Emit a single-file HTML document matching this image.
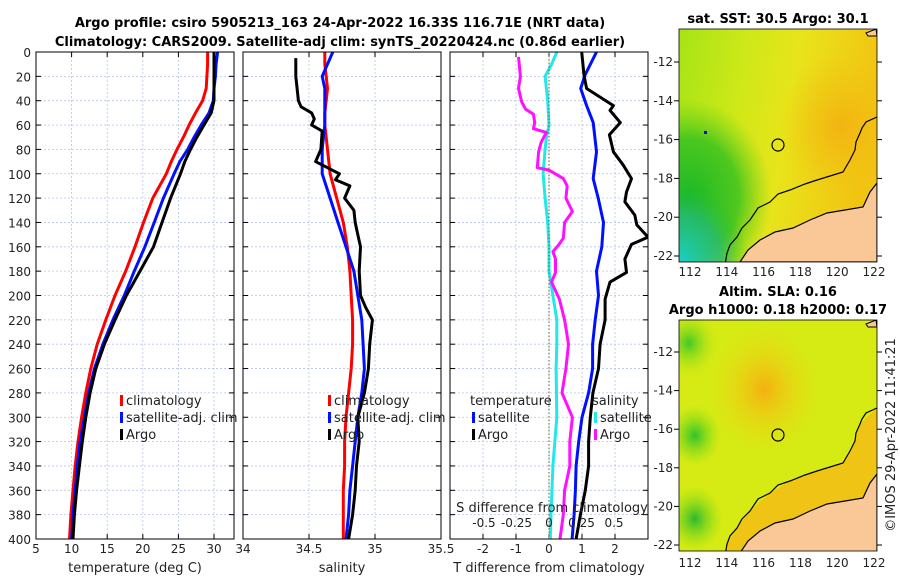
<!DOCTYPE html>
<html><head><meta charset="utf-8">
<style>
body{margin:0;background:#fff;}
svg{display:block;font-family:"DejaVu Sans","Liberation Sans",sans-serif;}
</style></head>
<body>
<svg id="fig" width="900" height="580" viewBox="0 0 900 580" xmlns="http://www.w3.org/2000/svg">
<defs>
<linearGradient id="sstBase" x1="0" y1="0" x2="1" y2="0.2">
<stop offset="0" stop-color="#a6e416"/><stop offset="0.35" stop-color="#cfe818"/><stop offset="0.6" stop-color="#e8e41a"/><stop offset="1" stop-color="#f2c412"/></linearGradient>
<radialGradient id="sstCyan" cx="0" cy="1" r="0.35"><stop offset="0" stop-color="#18d0c8"/><stop offset="0.6" stop-color="#20b880" stop-opacity="0.7"/><stop offset="1" stop-color="#20c020" stop-opacity="0"/></radialGradient>
<radialGradient id="sstGreen" cx="0.05" cy="0.72" r="0.42"><stop offset="0" stop-color="#1cb828"/><stop offset="0.6" stop-color="#30c020" stop-opacity="0.8"/><stop offset="1" stop-color="#60d018" stop-opacity="0"/></radialGradient>
<radialGradient id="sstOr" cx="0.82" cy="0.42" r="0.32"><stop offset="0" stop-color="#f2b412"/><stop offset="1" stop-color="#f2c012" stop-opacity="0"/></radialGradient>
<radialGradient id="slaOr" cx="0.43" cy="0.3" r="0.28"><stop offset="0" stop-color="#f5b010"/><stop offset="1" stop-color="#ecdc14" stop-opacity="0"/></radialGradient>
<radialGradient id="slaG1" cx="0.08" cy="0.5" r="0.13"><stop offset="0" stop-color="#30c030"/><stop offset="1" stop-color="#80e010" stop-opacity="0"/></radialGradient>
<radialGradient id="slaG2" cx="0.08" cy="0.86" r="0.14"><stop offset="0" stop-color="#2cb830"/><stop offset="1" stop-color="#80e010" stop-opacity="0"/></radialGradient>
<radialGradient id="slaG3" cx="0.05" cy="0.1" r="0.15"><stop offset="0" stop-color="#40c828"/><stop offset="1" stop-color="#c0e810" stop-opacity="0"/></radialGradient>
<clipPath id="c1"><rect x="36" y="52" width="198" height="487"/></clipPath>
<clipPath id="c2"><rect x="243" y="52" width="198" height="487"/></clipPath>
<clipPath id="c3"><rect x="450" y="52" width="198" height="487"/></clipPath>
<clipPath id="m1"><rect x="679" y="29" width="198" height="233"/></clipPath>
<clipPath id="m2"><rect x="679" y="320" width="198" height="231"/></clipPath>
</defs>
<g id="titles" font-weight="bold" font-size="13" text-anchor="middle" fill="#000">
<text x="340" y="27">Argo profile: csiro 5905213_163 24-Apr-2022 16.33S 116.71E (NRT data)</text>
<text x="340" y="46">Climatology: CARS2009. Satellite-adj clim: synTS_20220424.nc (0.86d earlier)</text>
<text x="778" y="23">sat. SST: 30.5 Argo: 30.1</text>
<text x="778" y="296">Altim. SLA: 0.16</text>
<text x="778" y="314">Argo h1000: 0.18 h2000: 0.17</text>
</g>
<g id="panels"></g>
<g id="maps">
 <g clip-path="url(#m1)">
  <rect x="679" y="29" width="198" height="233" fill="url(#sstBase)"/>
  <rect x="679" y="29" width="198" height="233" fill="url(#sstGreen)"/>
  <rect x="679" y="29" width="198" height="233" fill="url(#sstOr)"/>
  <rect x="679" y="29" width="198" height="233" fill="url(#sstCyan)"/>
  <g id="coast1"></g>
 </g>
 <rect x="704" y="131" width="3" height="3" fill="#1010c0"/>
 <rect x="679" y="29" width="198" height="233" fill="none" stroke="#000" stroke-width="0.8"/>
 <circle cx="778" cy="145" r="6" fill="none" stroke="#000" stroke-width="1.2"/>
 <g clip-path="url(#m2)">
  <rect x="679" y="320" width="198" height="231" fill="#d6ea14"/>
  <rect x="679" y="320" width="198" height="231" fill="url(#slaG3)"/>
  <rect x="679" y="320" width="198" height="231" fill="url(#slaOr)"/>
  <rect x="679" y="320" width="198" height="231" fill="url(#slaG1)"/>
  <rect x="679" y="320" width="198" height="231" fill="url(#slaG2)"/>
  <path d="M877,408 L860,424 L855,441 L843,463 L817,471 L790,481 L770,493 L750,511 L737,528 L727,544 L725,556 L740,553 L760,531 L793,519 L827,504 L863,498 L877,474 Z" fill="#f0c414"/>
  <g id="coast2"></g>
 </g>
 <rect x="679" y="320" width="198" height="231" fill="none" stroke="#000" stroke-width="0.8"/>
 <circle cx="778" cy="435" r="6" fill="none" stroke="#000" stroke-width="1.2"/>
 <g id="mapticks" font-size="12" fill="#222"></g>
</g>
<text transform="translate(895,435) rotate(-90)" font-size="13" text-anchor="middle" fill="#222">©IMOS 29-Apr-2022 11:41:21</text>
</svg>
<script>
const depths=[0,10,20,30,40,50,60,70,80,90,100,120,140,160,180,200,220,240,260,280,300,320,340,360,380,400];
const tempClim=[29.1,29.1,29.0,28.9,28.4,27.4,26.5,25.7,24.8,24.0,23.3,21.4,20.1,18.9,17.6,16.1,14.8,13.6,12.7,12.0,11.4,10.9,10.5,10.2,9.9,9.7];
const tempSat=[30.5,30.3,30.2,30.0,29.9,29.3,28.2,27.2,26.3,25.2,24.4,22.9,21.6,20.3,18.8,17.4,15.8,14.4,13.2,12.4,11.8,11.2,10.8,10.5,10.2,10.0];
const tempArgo=[30.0,30.0,30.0,30.0,30.0,29.6,28.6,27.6,26.7,25.9,25.3,23.9,22.7,21.5,19.6,17.7,16.1,14.6,13.4,12.6,12.0,11.5,11.1,10.7,10.4,10.2];
const salClim=[34.62,34.62,34.63,34.64,34.63,34.62,34.62,34.63,34.64,34.65,34.66,34.71,34.76,34.79,34.81,34.82,34.83,34.83,34.82,34.80,34.78,34.77,34.77,34.76,34.76,34.76];
const salSat=[34.68,34.64,34.60,34.62,34.62,34.62,34.62,34.61,34.60,34.60,34.60,34.66,34.72,34.78,34.84,34.87,34.90,34.91,34.92,34.90,34.87,34.85,34.83,34.81,34.80,34.78];
const argoDepths=[5,20,40,45,50,55,60,65,80,90,95,100,105,110,120,130,140,150,160,180,200,210,220,240,260,280,300,320,340,360,380,400];
const salArgo=[34.40,34.40,34.42,34.44,34.52,34.54,34.52,34.60,34.59,34.55,34.64,34.73,34.70,34.81,34.77,34.84,34.85,34.87,34.89,34.88,34.89,34.93,34.98,34.96,34.95,34.92,34.87,34.88,34.86,34.85,34.83,34.80];
const dTargoDepths=[0,19,30,44,48,58,68,82,93,104,115,123,134,142,152,158,170,181,189,203,220,240,260,280,300,320,340,360,380,400];
const dTargo=[0.99,1.06,1.14,1.95,1.85,2.16,1.83,1.95,2.25,2.5,2.35,2.3,2.6,2.66,3.0,2.5,2.3,2.35,1.85,1.7,1.7,1.55,1.5,1.33,1.25,1.2,1.2,1.1,0.95,0.82];
const dTsatDepths=[0,19,30,44,58,82,104,120,140,160,180,200,220,240,260,280,300,320,340,360,380,400];
const dTsat=[1.44,1.09,0.96,1.14,1.34,1.44,1.34,1.49,1.65,1.6,1.44,1.5,1.4,1.32,1.32,1.2,1.0,0.9,0.82,0.8,0.76,0.7];
const dSsatDepths=[0,10,20,40,60,70,80,100,120,140,160,180,200,220,240,260,300,340,380,400];
const dSsat=[0.06,0.02,-0.03,-0.01,0.0,-0.02,-0.03,-0.045,-0.03,-0.01,0.0,0.0,0.03,0.06,0.06,0.055,0.06,0.03,0.015,0.01];
const dSargoDepths=[4,20,30,41,47,51,58,63,66,74,82,95,97,104,110,120,131,140,153,159,164,170,181,189,203,220,240,260,280,300,320,340,360,380,400];
const dSargo=[-0.235,-0.22,-0.235,-0.21,-0.18,-0.12,-0.11,-0.12,-0.02,-0.06,-0.08,-0.09,0.0,0.11,0.14,0.13,0.18,0.12,0.11,0.07,0.03,0.05,0.05,0.02,0.08,0.12,0.15,0.13,0.1,0.18,0.16,0.16,0.12,0.11,0.085];
const tTicks=[5,10,15,20,25,30];
const sTicks=[34,34.5,35,35.5];
const dTicks=[-2,-1,0,1,2];
const dsTicks=[-0.5,-0.25,0,0.25,0.5];
const dsTickLabels=["-0.5","-0.25","0","0.25","0.5"];
const depthTicks=[0,20,40,60,80,100,120,140,160,180,200,220,240,260,280,300,320,340,360,380,400];
const lonTicks=[112,114,116,118,120,122];
const latTicks=[-12,-14,-16,-18,-20,-22];

const NS='http://www.w3.org/2000/svg';
const fig=document.getElementById('panels');
function mk(tag,attrs,parent,text){const e=document.createElementNS(NS,tag);for(const k in attrs)e.setAttribute(k,attrs[k]);if(text!==undefined)e.textContent=text;(parent||fig).appendChild(e);return e;}
const Y=d=>52+d*(487/400);
const xT=t=>36+(t-5)*(178/25);
const xS=s=>243+(s-34)*132;
const xD=d=>549+d*33;
const xDS=d=>549+d*130;
const panels=[[36,'c1'],[243,'c2'],[450,'c3']];
panels.forEach(([x0,cp],i)=>{
  const g=mk('g',{});
  
  
  depthTicks.forEach(d=>{if(d>0&&d<400){const l=mk('line',{x1:x0,x2:x0+198,y1:Y(d),y2:Y(d),stroke:'#b8c4e8','stroke-width':0.8,'stroke-dasharray':'2,2'},g);}
   mk('line',{x1:x0,x2:x0+5,y1:Y(d),y2:Y(d),stroke:'#000'},g);mk('line',{x1:x0+193,x2:x0+198,y1:Y(d),y2:Y(d),stroke:'#000'},g);});
  const xs=i==0?tTicks.map(xT):i==1?sTicks.map(xS):dTicks.map(xD);
  xs.forEach(x=>{if(x>x0+1&&x<x0+197)mk('line',{x1:x,x2:x,y1:52,y2:539,stroke:'#b8c4e8','stroke-width':0.8,'stroke-dasharray':'2,2'},g);
    mk('line',{x1:x,x2:x,y1:539,y2:534,stroke:'#000'},g);mk('line',{x1:x,x2:x,y1:52,y2:57,stroke:'#000'},g);});
  g._x0=x0;g._cp=cp;panels[i].g=g;
});
depthTicks.forEach(d=>{const t=mk('text',{x:31,y:Y(d)+5,'font-size':12,'text-anchor':'end',fill:'#222'},fig,String(d));});
tTicks.forEach(v=>{const t=mk('text',{x:xT(v),y:553,'font-size':12,'text-anchor':'middle',fill:'#222'},fig,String(v));});
sTicks.forEach(v=>{const t=mk('text',{x:xS(v),y:553,'font-size':12,'text-anchor':'middle',fill:'#222'},fig,String(v));});
dTicks.forEach(v=>{const t=mk('text',{x:xD(v),y:553,'font-size':12,'text-anchor':'middle',fill:'#222'},fig,String(v));});
dsTicks.forEach((v,k)=>{const t=mk('text',{x:xDS(v),y:527,'font-size':12,'text-anchor':'middle',fill:'#222'},fig,dsTickLabels[k]);});
[['temperature (deg C)',135,'x-axis-title-temp'],['salinity',342,'x-axis-title-sal'],['T difference from climatology',549,'x-axis-title-tdiff']].forEach(a=>{const t=mk('text',{x:a[1],y:572,'font-size':13,'text-anchor':'middle',fill:'#222'},fig,a[0]);});
{const t=mk('text',{x:552,y:512,'font-size':13,'text-anchor':'middle',fill:'#222'},fig,'S difference from climatology');}
mk('line',{x1:xD(0),x2:xD(0),y1:52,y2:539,stroke:'#556644','stroke-dasharray':'1.5,2','stroke-width':1});
function line(pi,xf,vals,ds,color,name){
  const pts=vals.map((v,k)=>xf(v).toFixed(1)+','+Y(ds[k]).toFixed(1)).join(' ');
  const p=mk('polyline',{points:pts,fill:'none',stroke:color,'stroke-width':3,'stroke-linejoin':'round','clip-path':'url(#'+panels[pi].g._cp+')'},panels[pi].g);
  
  
}
line(0,xT,tempClim,depths,'#ff0000','temp-climatology-line');
line(0,xT,tempSat,depths,'#0010ff','temp-satellite-line');
line(0,xT,tempArgo,depths,'#000','temp-argo-line');
line(1,xS,salClim,depths,'#ff0000','sal-climatology-line');
line(1,xS,salSat,depths,'#0010ff','sal-satellite-line');
line(1,xS,salArgo,argoDepths,'#000','sal-argo-line');
line(2,xDS,dSsat,dSsatDepths,'#22e8e8','sdiff-satellite-line');
line(2,xDS,dSargo,dSargoDepths,'#ff10ff','sdiff-argo-line');
line(2,xD,dTsat,dTsatDepths,'#0010ff','tdiff-satellite-line');
line(2,xD,dTargo,dTargoDepths,'#000','tdiff-argo-line');
panels.forEach(p=>{const r=mk('rect',{x:p.g._x0,y:52,width:198,height:487,fill:'none',stroke:'#000','stroke-width':1},p.g);});
function legend(x,y,items,name){
  const g=mk('g',{});
  items.forEach((it,k)=>{const yy=y+k*17;
    if(it[1])mk('rect',{x:x,y:yy-10,width:3,height:11,fill:it[1]},g);
    mk('text',{x:x+(it[1]?6:-2),y:yy,'font-size':13,fill:'#222'},g,it[0]);});
}
legend(120,405,[['climatology','#ff0000'],['satellite-adj. clim','#0010ff'],['Argo','#000']],'legend-temp');
legend(328,405,[['climatology','#ff0000'],['satellite-adj. clim','#0010ff'],['Argo','#000']],'legend-sal');
legend(472,405,[['temperature',null],['satellite','#0010ff'],['Argo','#000']],'legend-tdiff');
legend(594,405,[['salinity',null],['satellite','#22e8e8'],['Argo','#ff10ff']],'legend-sdiff');

// maps
const lonX=l=>690+(l-112)*18.4;
const latY1=la=>62+(-12-la)*19.4;
const latY2=la=>352+(-12-la)*19.3;
const coastOuter="M877,117 L866,122 L862,128 L860,133 L856,142 L855,150 L850,160 L843,172 L830,176 L817,180 L805,184 L790,190 L778,194 L770,202 L758,208 L750,220 L742,228 L737,237 L730,245 L727,253 L725,265";
const coastLand="M877,183 L870,192 L863,207 L845,210 L827,213 L810,220 L793,228 L775,232 L760,240 L748,250 L740,262 L877,262 Z";
function coast(id,dy){const g=document.getElementById(id);
  const land=mk('path',{d:coastLand,fill:'#f9c896',stroke:'#000','stroke-width':1.2,transform:'translate(0,'+dy+')'},g);
  
  const c=mk('path',{d:coastOuter,fill:'none',stroke:'#000','stroke-width':1.2,transform:'translate(0,'+dy+')'},g);
  
  mk('path',{d:'M866,33 L876,29 L877,36 L868,36 Z',fill:'#f9c896',stroke:'#000',transform:'translate(0,'+dy+')'},g);
}
coast('coast1',0);coast('coast2',291);
const mt=document.getElementById('mapticks');
lonTicks.forEach(l=>{[266,557].forEach(y=>{const t=mk('text',{x:lonX(l),y:y+10,'text-anchor':'middle'},mt,String(l));});});
latTicks.forEach(la=>{[[latY1(la)],[latY2(la)]].forEach(a=>{const t=mk('text',{x:673,y:a[0]+4,'text-anchor':'end'},mt,String(la));
 mk('line',{x1:877,x2:882,y1:a[0],y2:a[0],stroke:'#000'},mt);mk('line',{x1:674,x2:679,y1:a[0],y2:a[0],stroke:'#000'},mt);});});
</script>
</body></html>
